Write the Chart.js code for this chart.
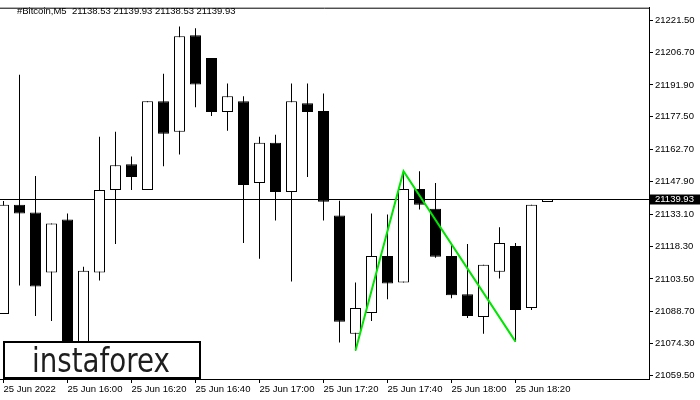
<!DOCTYPE html>
<html>
<head>
<meta charset="utf-8">
<script src="https://cdn.jsdelivr.net/npm/chart.js@4"></script>
<style>
  html, body { margin: 0; padding: 0; background: #fff; }
</style>
</head>
<body>
<canvas id="myCandleChart" width="700" height="400"></canvas>
<script>
'use strict';

// symbol / header
const symbolName = '#Bitcoin,M5';
const dateLabel = '25 Jun 2022';
const dayPrefix = '25 Jun ';

// one entry per 5-minute candle
const candleTimes = [
  '15:40', '15:45', '15:50', '15:55', '16:00', '16:05', '16:10', '16:15',
  '16:20', '16:25', '16:30', '16:35', '16:40', '16:45', '16:50', '16:55',
  '17:00', '17:05', '17:10', '17:15', '17:20', '17:25', '17:30', '17:35',
  '17:40', '17:45', '17:50', '17:55', '18:00', '18:05', '18:10', '18:15',
  '18:20', '18:25', '18:30'
];

const opens = [
  21087.55, 21137.36, 21133.77, 21106.40, 21130.63, 21070.94, 21106.40, 21144.09,
  21155.76, 21144.09, 21184.48, 21170.57, 21214.55, 21204.22, 21179.54, 21184.48,
  21147.23, 21165.63, 21143.19, 21183.58, 21179.99, 21132.42, 21078.57, 21088.00,
  21114.02, 21101.91, 21144.54, 21135.56, 21114.02, 21096.52, 21086.20, 21106.85,
  21118.51, 21090.24, 21138.53
];
const highs = [
  21139.00, 21196.59, 21150.37, 21128.83, 21133.32, 21109.09, 21168.32, 21170.57,
  21159.35, 21184.48, 21197.04, 21218.58, 21217.69, 21204.22, 21192.56, 21186.72,
  21168.32, 21169.22, 21192.56, 21192.56, 21188.07, 21139.16, 21101.91, 21133.32,
  21132.87, 21152.62, 21152.62, 21147.23, 21118.96, 21119.41, 21109.99, 21127.04,
  21119.86, 21137.36, 21139.93
];
const lows = [
  21087.55, 21100.56, 21086.65, 21084.41, 21061.07, 21064.20, 21102.81, 21119.41,
  21144.09, 21144.09, 21154.86, 21160.25, 21181.79, 21177.75, 21171.02, 21119.86,
  21112.68, 21130.18, 21102.36, 21149.92, 21130.18, 21074.53, 21070.94, 21084.41,
  21094.28, 21101.91, 21135.11, 21113.13, 21094.73, 21085.75, 21078.57, 21103.71,
  21074.98, 21089.34, 21138.53
];
const closes = [
  21137.36, 21133.32, 21100.11, 21128.83, 21068.70, 21107.30, 21144.09, 21155.31,
  21149.92, 21184.48, 21169.67, 21214.10, 21192.11, 21179.54, 21186.72, 21146.33,
  21165.63, 21143.19, 21184.48, 21179.54, 21138.71, 21083.96, 21090.24, 21114.02,
  21101.46, 21144.54, 21137.36, 21113.58, 21096.07, 21086.65, 21109.99, 21119.86,
  21089.34, 21137.36, 21139.93
];

// right axis labels
const priceTicks = [
  21221.50, 21206.70, 21191.90, 21177.50, 21162.70, 21147.90,
  21133.10, 21118.30, 21103.50, 21088.70, 21074.30, 21059.50
];
// candles that carry a time label
const timeTickIdx = [0, 4, 8, 12, 16, 20, 24, 28, 32];

// double top pattern (candle index, price)
const patternIdx = [22, 25, 32];
const patternPrices = [21070.94, 21152.62, 21074.98];

const axisFont = { family: "'Liberation Sans', Arial, sans-serif", size: 9.5 };
const fontCss = "9.5px 'Liberation Sans', Arial, sans-serif";

const wickData = candleTimes.map((t, i) => ({ x: i, y: [lows[i], highs[i]] }));
const bodyData = candleTimes.map((t, i) => ({ x: i, y: [opens[i], closes[i]] }));
const bodyColors = closes.map((c, i) => c >= opens[i] ? '#ffffff' : '#000000');
const lastPrice = closes[closes.length - 1];

const mtDecor = {
  id: 'mtDecor',
  beforeDatasetsDraw(chart) {
    const c = chart.ctx;
    const area = chart.chartArea;
    const y = Math.floor(chart.scales.y.getPixelForValue(lastPrice)) + 0.5;
    c.save();
    c.strokeStyle = '#000';
    c.lineWidth = 1;
    c.beginPath();
    c.moveTo(area.left, y);
    c.lineTo(area.right, y);
    // top frame
    c.moveTo(area.left, area.top + 0.5);
    c.lineTo(area.right, area.top + 0.5);
    c.stroke();
    c.restore();
  },
  afterDraw(chart) {
    const c = chart.ctx;
    const area = chart.chartArea;
    c.save();
    // header text
    c.font = fontCss;
    c.fillStyle = '#000';
    c.textBaseline = 'middle';
    c.textAlign = 'left';
    c.fillText(symbolName + '  ' + opens[opens.length - 1].toFixed(2) + ' ' +
      highs[highs.length - 1].toFixed(2) + ' ' + lows[lows.length - 1].toFixed(2) + ' ' +
      lastPrice.toFixed(2), 17, 11);

    // current price tag on the axis
    const y = Math.floor(chart.scales.y.getPixelForValue(lastPrice)) + 0.5;
    c.fillStyle = '#000';
    c.fillRect(area.right + 1, y - 5, 700 - area.right - 1, 10);
    c.fillStyle = '#fff';
    c.fillText(lastPrice.toFixed(2), area.right + 6, y);

    // logo box
    c.fillStyle = '#fff';
    c.fillRect(4, 342, 196, 36);
    c.strokeStyle = '#000';
    c.lineWidth = 2;
    c.strokeRect(4, 342, 196, 36);
    c.fillStyle = '#1e1e1e';
    c.font = "34px 'DejaVu Sans', sans-serif";
    c.textBaseline = 'alphabetic';
    c.fillText('instaforex', 32, 372, 138);
    c.restore();
  }
};

const ctx = document.getElementById('myCandleChart');
const myChart = new Chart(ctx, {
  type: 'bar',
  data: {
    datasets: [
      {
        type: 'line',
        data: patternIdx.map((x, i) => ({ x: x, y: patternPrices[i] })),
        borderColor: '#00e600',
        borderWidth: 2,
        pointRadius: 0,
        tension: 0,
        fill: false,
        order: 0
      },
      {
        data: bodyData,
        backgroundColor: bodyColors,
        borderColor: '#000',
        borderWidth: 1,
        borderSkipped: false,
        barThickness: 11,
        maxBarThickness: 11,
        grouped: false,
        inflateAmount: 0,
        order: 1
      },
      {
        data: wickData,
        backgroundColor: '#000',
        borderWidth: 0,
        barThickness: 1,
        maxBarThickness: 1,
        grouped: false,
        inflateAmount: 0,
        order: 2
      }
    ]
  },
  options: {
    responsive: false,
    animation: false,
    devicePixelRatio: 1,
    events: [],
    layout: { padding: { top: 2, left: 0, right: 0, bottom: 0 } },
    plugins: {
      legend: { display: false },
      tooltip: { enabled: false },
      title: { display: false }
    },
    scales: {
      x: {
        type: 'linear',
        position: 'bottom',
        offset: false,
        min: -0.21875,
        max: 40.34375,
        afterBuildTicks: s => { s.ticks = timeTickIdx.map(v => ({ value: v })); },
        afterFit: s => { s.height = 21; },
        ticks: {
          autoSkip: false,
          maxRotation: 0,
          align: 'start',
          padding: 1,
          color: '#000',
          font: axisFont,
          callback: v => v === 0 ? dateLabel : dayPrefix + candleTimes[v]
        },
        grid: { offset: false, drawOnChartArea: false, drawTicks: true, tickLength: 4, color: '#000' },
        border: { display: true, color: '#000' }
      },
      y: {
        type: 'linear',
        position: 'right',
        beginAtZero: false,
        min: 21057.93,
        max: 21227.11,
        afterBuildTicks: s => { s.ticks = priceTicks.map(v => ({ value: v })); },
        afterFit: s => { s.width = 51; },
        ticks: {
          padding: 2,
          color: '#000',
          font: axisFont,
          callback: v => Number(v).toFixed(2)
        },
        grid: { drawOnChartArea: false, drawTicks: true, tickLength: 4, color: '#000' },
        border: { display: true, color: '#000' }
      }
    }
  },
  plugins: [mtDecor]
});
</script>
</body>
</html>
